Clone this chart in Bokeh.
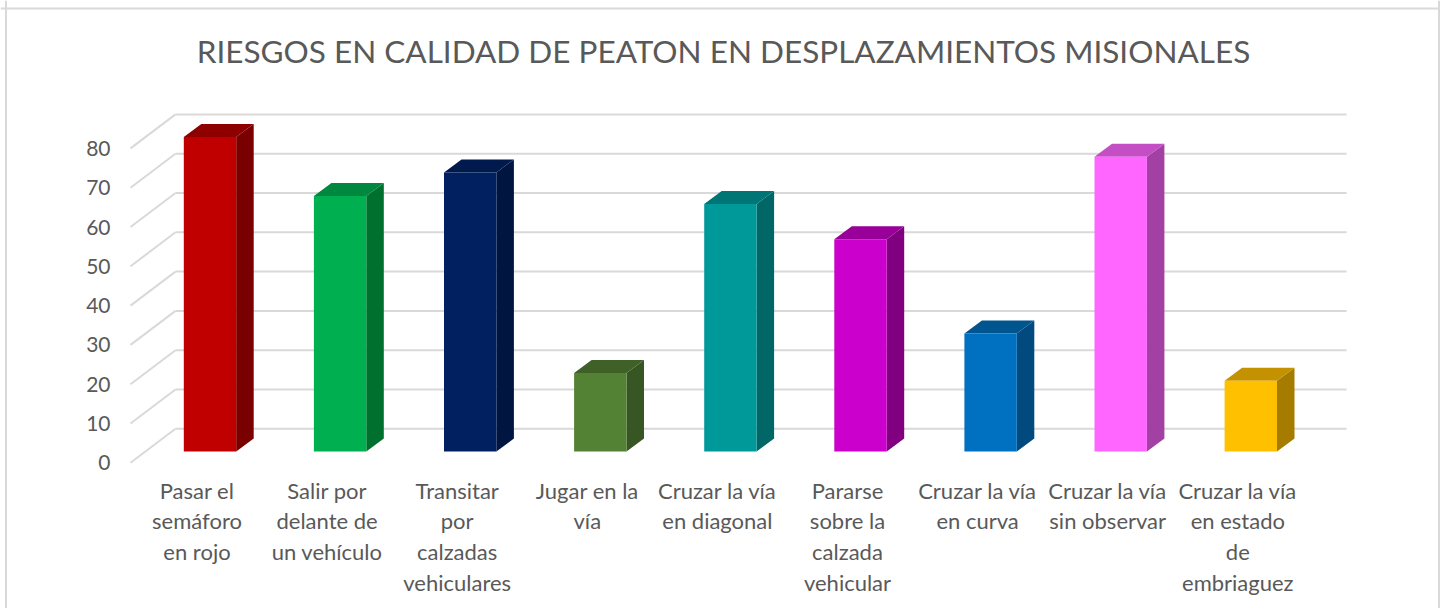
from bokeh.plotting import figure
from bokeh.models import Range1d, Span
from bokeh.embed import file_html
from bokeh.resources import INLINE
from bokeh.core.properties import value

# ---------------- data ----------------
title = "RIESGOS EN CALIDAD DE PEATON EN DESPLAZAMIENTOS MISIONALES"
categories = [
    "Pasar el semáforo en rojo",
    "Salir por delante de un vehículo",
    "Transitar por calzadas vehiculares",
    "Jugar en la vía",
    "Cruzar la vía en diagonal",
    "Pararse sobre la calzada vehicular",
    "Cruzar la vía en curva",
    "Cruzar la vía sin observar",
    "Cruzar la vía en estado de embriaguez",
]
labels = [
    "Pasar el\nsemáforo\nen rojo",
    "Salir por\ndelante de\nun vehículo",
    "Transitar\npor\ncalzadas\nvehiculares",
    "Jugar en la\nvía",
    "Cruzar la vía\nen diagonal",
    "Pararse\nsobre la\ncalzada\nvehicular",
    "Cruzar la vía\nen curva",
    "Cruzar la vía\nsin observar",
    "Cruzar la vía\nen estado\nde\nembriaguez",
]
values = [80, 65, 71, 20, 63, 54, 30, 75, 18]
front_colors = ["#C00000", "#00B050", "#002060", "#548235", "#009999",
                "#CC00CC", "#0070C0", "#FF66FF", "#FFC000"]
top_colors = ["#8E0000", "#00893E", "#001A4E", "#3F6128", "#007575",
              "#990099", "#00558F", "#C44FC4", "#C49200"]
side_colors = ["#7A0000", "#00702F", "#001540", "#375623", "#006666",
               "#800080", "#004A7F", "#A340A3", "#A67C00"]
y_ticks = [0, 10, 20, 30, 40, 50, 60, 70, 80]

# ---------------- geometry / style ----------------
W, H = 1440, 608
PX_CAT = 130.1          # px per category
PX_UNIT = 3.93          # px per value unit
X0 = 209.5              # px of first bar centre from left
BASE = 451              # px of bar base from top

hw = 26.2 / PX_CAT      # half bar width
dxb = 17.5 / PX_CAT     # bar depth (x)
dyb = 13.0 / PX_UNIT    # bar depth (y)
wall_x0 = (175 - X0) / PX_CAT
wall_x1 = (1346 - X0) / PX_CAT
wall_dy = 22.7 / PX_UNIT
front_x = (130 - X0) / PX_CAT
front_dy = -11.3 / PX_UNIT

grid_col = "#D9D9D9"
text_col = "#595959"
FONT = "Lato"

p = figure(width=W, height=H,
           x_range=Range1d(-X0 / PX_CAT, (W - X0) / PX_CAT),
           y_range=Range1d(-(H - BASE) / PX_UNIT, BASE / PX_UNIT),
           output_backend="svg", toolbar_location=None,
           x_axis_location=None, y_axis_location=None, min_border=0)
p.outline_line_color = None
p.background_fill_color = "white"
p.border_fill_color = "white"
p.xgrid.visible = False
p.ygrid.visible = False

# back wall gridlines
p.segment(x0=[wall_x0] * len(y_ticks), y0=[t + wall_dy for t in y_ticks],
          x1=[wall_x1] * len(y_ticks), y1=[t + wall_dy for t in y_ticks],
          line_color=grid_col, line_width=2)
# side wall diagonals
p.segment(x0=[front_x] * len(y_ticks), y0=[t + front_dy for t in y_ticks],
          x1=[wall_x0] * len(y_ticks), y1=[t + wall_dy for t in y_ticks],
          line_color=grid_col, line_width=2)

# bars
xs = list(range(len(values)))
side_xs = [[i + hw, i + hw + dxb, i + hw + dxb, i + hw] for i in xs]
side_ys = [[0, dyb, v + dyb, v] for v in values]
top_xs = [[i - hw, i + hw, i + hw + dxb, i - hw + dxb] for i in xs]
top_ys = [[v, v, v + dyb, v + dyb] for v in values]
p.patches(side_xs, side_ys, fill_color=side_colors, line_color=None)
p.patches(top_xs, top_ys, fill_color=top_colors, line_color=None)
p.quad(left=[i - hw for i in xs], right=[i + hw for i in xs],
       bottom=[0] * len(values), top=values,
       fill_color=front_colors, line_color=None)

# y tick labels
p.text(x=[(110 - X0) / PX_CAT] * len(y_ticks), y=[t + front_dy for t in y_ticks],
       text=[str(t) for t in y_ticks], text_align="right", text_baseline="middle",
       text_font=value(FONT), text_font_size="21px", text_color=text_col)

# category labels
p.text(x=[i - 13.0 / PX_CAT for i in xs], y=[-25.0 / PX_UNIT] * len(xs),
       text=labels, text_align="center", text_baseline="top",
       text_font=value(FONT), text_font_size="22px", text_color=text_col,
       text_line_height=1.14)

# title
p.text(x=[(723 - X0) / PX_CAT], y=[(BASE - 50) / PX_UNIT], text=[title],
       text_align="center", text_baseline="middle",
       text_font=value(FONT), text_font_size="31.5px", text_color=text_col)

# chart border (left, top, right)
xr, yr = p.x_range, p.y_range
p.add_layout(Span(location=xr.start + 5.5 / PX_CAT, dimension="height",
                  line_color=grid_col, line_width=2))
p.add_layout(Span(location=xr.start + 1438.5 / PX_CAT, dimension="height",
                  line_color=grid_col, line_width=2))
p.add_layout(Span(location=yr.end - 8.0 / PX_UNIT, dimension="width",
                  line_color=grid_col, line_width=2))

open("out.html", "w").write(file_html(p, INLINE))
